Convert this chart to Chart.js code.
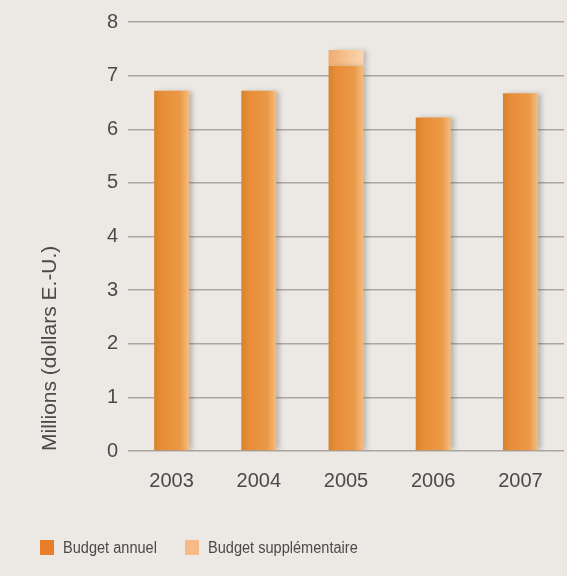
<!DOCTYPE html>
<html>
<head>
<meta charset="utf-8">
<script src="https://cdn.jsdelivr.net/npm/chart.js@4"></script>
<style>
  html, body { margin: 0; padding: 0; }
  body { width: 567px; height: 576px; background: #ece9e5; position: relative; overflow: hidden; }
  #wrap { position: absolute; left: 0; top: 0; width: 567px; height: 576px; }
  .legend { position: absolute; top: 539px; left: 40px; font-family: "Liberation Sans", sans-serif; font-size: 16px; color: #4a4a4a; }
  .legend span.item { position: absolute; white-space: nowrap; }
  .legend span.box { display: inline-block; width: 14px; height: 15px; vertical-align: -2px; margin-right: 9px; }
  .legend span.txt { display: inline-block; transform: scaleX(0.91); transform-origin: left center; }
</style>
</head>
<body>
<div id="wrap"><canvas id="chart"></canvas></div>
<div class="legend" id="legend"></div>
<script>
// data
const years = ["2003", "2004", "2005", "2006", "2007"];
const annualBudget = [6.72, 6.72, 7.18, 6.22, 6.67];
const extraBudget = [0, 0, 0.3, 0, 0];
const seriesNames = ["Budget annuel", "Budget supplémentaire"];
const legendColors = ["#e87d2c", "#f6ba86"];

// left-dark / right-light shading per bar
const barShading = {
  id: 'barShading',
  beforeDatasetDraw(chart, args) {
    const c = chart.ctx;
    const meta = chart.getDatasetMeta(args.index);
    meta.data.forEach(bar => {
      const l = bar.x - bar.width / 2, r = bar.x + bar.width / 2;
      const g = c.createLinearGradient(l, 0, r, 0);
      if (args.index === 0) {
        g.addColorStop(0, '#d8822f');
        g.addColorStop(0.2, '#e78c37');
        g.addColorStop(0.75, '#eb9a48');
        g.addColorStop(1, '#f5bd82');
      } else {
        g.addColorStop(0, '#eeac70');
        g.addColorStop(0.5, '#f6c18e');
        g.addColorStop(1, '#fad6b2');
      }
      bar.options.backgroundColor = g;
    });
    c.save();
    c.shadowColor = 'rgba(90,80,70,0.35)';
    c.shadowBlur = 5;
    c.shadowOffsetX = 4;
    c.shadowOffsetY = 0;
  },
  afterDatasetDraw(chart) {
    chart.ctx.restore();
  }
};

new Chart(document.getElementById('chart'), {
  type: 'bar',
  data: {
    labels: years,
    datasets: [
      { label: seriesNames[0], data: annualBudget, backgroundColor: () => legendColors[0], categoryPercentage: 0.8, barPercentage: 0.5 },
      { label: seriesNames[1], data: extraBudget, backgroundColor: () => legendColors[1], categoryPercentage: 0.8, barPercentage: 0.5 }
    ]
  },
  options: {
    responsive: true,
    maintainAspectRatio: false,
    animation: false,
    layout: { padding: { top: 11, right: 3, bottom: 0, left: 0 } },
    plugins: { legend: { display: false }, tooltip: { enabled: false } },
    scales: {
      x: {
        stacked: true,
        grid: { display: false },
        border: { display: false },
        ticks: { color: '#4a4a4a', padding: 10, font: { family: 'Liberation Sans', size: 20 } },
        afterFit(s) { s.height = 125; }
      },
      y: {
        stacked: true,
        min: 0,
        max: 8,
        ticks: { stepSize: 1, color: '#4a4a4a', padding: 10, font: { family: 'Liberation Sans', size: 20 } },
        grid: { color: '#aaa69f', lineWidth: 1.5, tickLength: 0 },
        border: { display: false },
        title: { display: true, text: 'Millions (dollars E.-U.)', align: 'start', color: '#4a4a4a', padding: { top: 38, bottom: 0 }, font: { family: 'Liberation Sans', size: 21 } },
        afterFit(s) { s.width = 128; }
      }
    }
  },
  plugins: [barShading]
});

// legend as html, from the same names and colours
const lg = document.getElementById('legend');
const offsets = [0, 145];
seriesNames.forEach((n, i) => {
  const it = document.createElement('span');
  it.className = 'item';
  it.style.left = offsets[i] + 'px';
  it.innerHTML = '<span class="box" style="background:' + legendColors[i] + '"></span><span class="txt">' + n + '</span>';
  lg.appendChild(it);
});
</script>
</body>
</html>
